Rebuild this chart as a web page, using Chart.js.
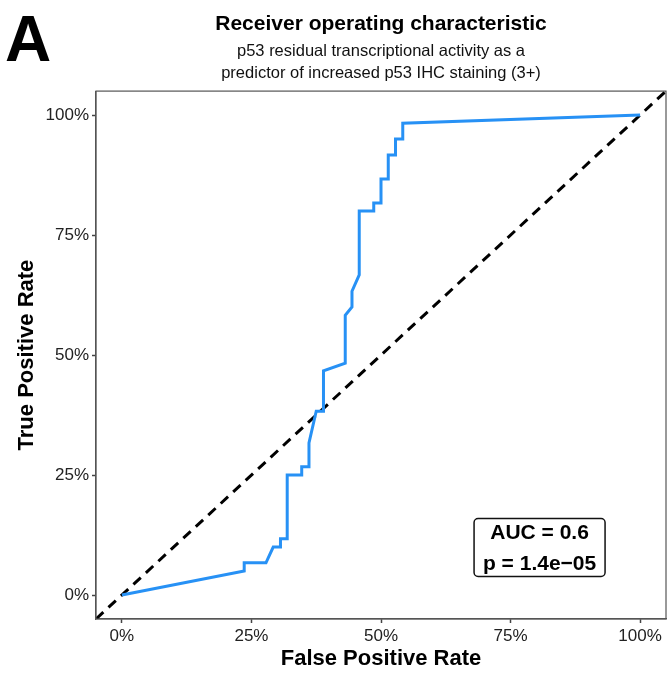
<!DOCTYPE html>
<html>
<head>
<meta charset="utf-8">
<script src="https://cdn.jsdelivr.net/npm/chart.js@4/dist/chart.umd.min.js"></script>
<style>
  html, body { margin: 0; padding: 0; background: #fff; }
  #wrap { width: 668px; height: 673px; }
</style>
</head>
<body>
<div id="wrap"><canvas id="roc" width="668" height="673"></canvas></div>
<script>
// === Data ===
const fpr = [0, 23.6, 23.6, 27.8, 29.2, 30.6, 30.6, 31.9, 31.9, 34.7, 34.7, 36.1, 36.1, 37.5, 38.9, 38.9,
  43.1, 43.1, 44.4, 44.4, 45.8, 45.8, 48.6, 48.6, 50.0, 50.0, 51.4, 51.4, 52.8, 52.8, 54.2, 54.2, 100];
const tpr = [0, 5.0, 6.7, 6.7, 10.0, 10.0, 11.7, 11.7, 25.0, 25.0, 26.7, 26.7, 31.7, 38.3, 38.3, 46.7,
  48.3, 58.3, 60.0, 63.3, 66.7, 80.0, 80.0, 81.7, 81.7, 86.7, 86.7, 91.7, 91.7, 95.0, 95.0, 98.3, 100];
const refX = [-5, 105];
const refY = [-5, 105];
const tickValues = [0, 25, 50, 75, 100];
const statLines = ['AUC = 0.6', 'p = 1.4e\u221205'];
const statPos = [80.6, 9.9];

const FONT = '"Liberation Sans", Arial, Helvetica, sans-serif';

// === Helpers ===
function toPoints(xs, ys) {
  return xs.map((x, i) => ({ x: x, y: ys[i] }));
}

// panel border + panel letter + stats box
const decorPlugin = {
  id: 'decor',
  afterDraw(chart) {
    const ctx = chart.ctx;
    const area = chart.chartArea;
    ctx.save();
    ctx.strokeStyle = '#555';
    ctx.lineWidth = 1.2;
    ctx.strokeRect(area.left, area.top, area.right - area.left, area.bottom - area.top);

    ctx.fillStyle = '#000';
    ctx.font = 'bold 64px ' + FONT;
    ctx.textAlign = 'left';
    ctx.textBaseline = 'alphabetic';
    ctx.fillText('A', 5, 61);

    // stats label
    const cx = chart.scales.x.getPixelForValue(statPos[0]);
    const cy = chart.scales.y.getPixelForValue(statPos[1]);
    const w = 131, h = 58;
    ctx.beginPath();
    ctx.roundRect(cx - w / 2, cy - h / 2, w, h, 4);
    ctx.fillStyle = '#fff';
    ctx.fill();
    ctx.lineWidth = 1.5;
    ctx.strokeStyle = '#111';
    ctx.stroke();
    ctx.fillStyle = '#000';
    ctx.font = 'bold 21px ' + FONT;
    ctx.textAlign = 'center';
    ctx.textBaseline = 'middle';
    ctx.fillText(statLines[0], cx, cy - 14);
    ctx.fillText(statLines[1], cx, cy + 17);
    ctx.restore();
  }
};

const axisCommon = {
  type: 'linear',
  min: -5,
  max: 105,
  grid: { drawOnChartArea: false, drawTicks: true, tickLength: 4, tickWidth: 1.5, tickColor: '#444' },
  border: { display: true, color: '#555', width: 1.2 },
  afterBuildTicks(scale) {
    scale.ticks = tickValues.map(v => ({ value: v }));
  },
  ticks: {
    color: '#222',
    font: { family: FONT, size: 17 },
    padding: 3,
    callback: v => v + '%'
  }
};

new Chart(document.getElementById('roc'), {
  type: 'line',
  data: {
    datasets: [
      {
        data: toPoints(fpr, tpr),
        borderColor: '#2791f5',
        borderWidth: 3,
        pointRadius: 0,
        tension: 0,
        fill: false
      },
      {
        data: toPoints(refX, refY),
        borderColor: '#000',
        borderWidth: 3,
        borderDash: [10, 7],
        pointRadius: 0,
        fill: false
      }
    ]
  },
  options: {
    responsive: false,
    animation: false,
    layout: { padding: { top: 0, right: 2, left: 0, bottom: 0 } },
    plugins: {
      legend: { display: false },
      tooltip: { enabled: false },
      title: {
        display: true,
        fullSize: false,
        text: 'Receiver operating characteristic',
        color: '#000',
        font: { family: FONT, size: 21, weight: 'bold' },
        padding: { top: 12, bottom: 4 }
      },
      subtitle: {
        display: true,
        fullSize: false,
        text: ['p53 residual transcriptional activity as a', 'predictor of increased p53 IHC staining (3+)'],
        color: '#111',
        font: { family: FONT, size: 16.5, lineHeight: 1.3 },
        padding: { top: 0, bottom: 7 }
      }
    },
    scales: {
      x: Object.assign({}, axisCommon, {
        afterFit(scale) { scale.height = 54; },
        title: {
          display: true,
          text: 'False Positive Rate',
          color: '#000',
          font: { family: FONT, size: 22, weight: 'bold' },
          padding: { top: 0, bottom: 1 }
        }
      }),
      y: Object.assign({}, axisCommon, {
        afterFit(scale) { scale.width = 96; },
        title: {
          display: true,
          text: 'True Positive Rate',
          color: '#000',
          font: { family: FONT, size: 22, weight: 'bold' },
          padding: { top: 14, bottom: 0 }
        }
      })
    }
  },
  plugins: [decorPlugin]
});
</script>
</body>
</html>
